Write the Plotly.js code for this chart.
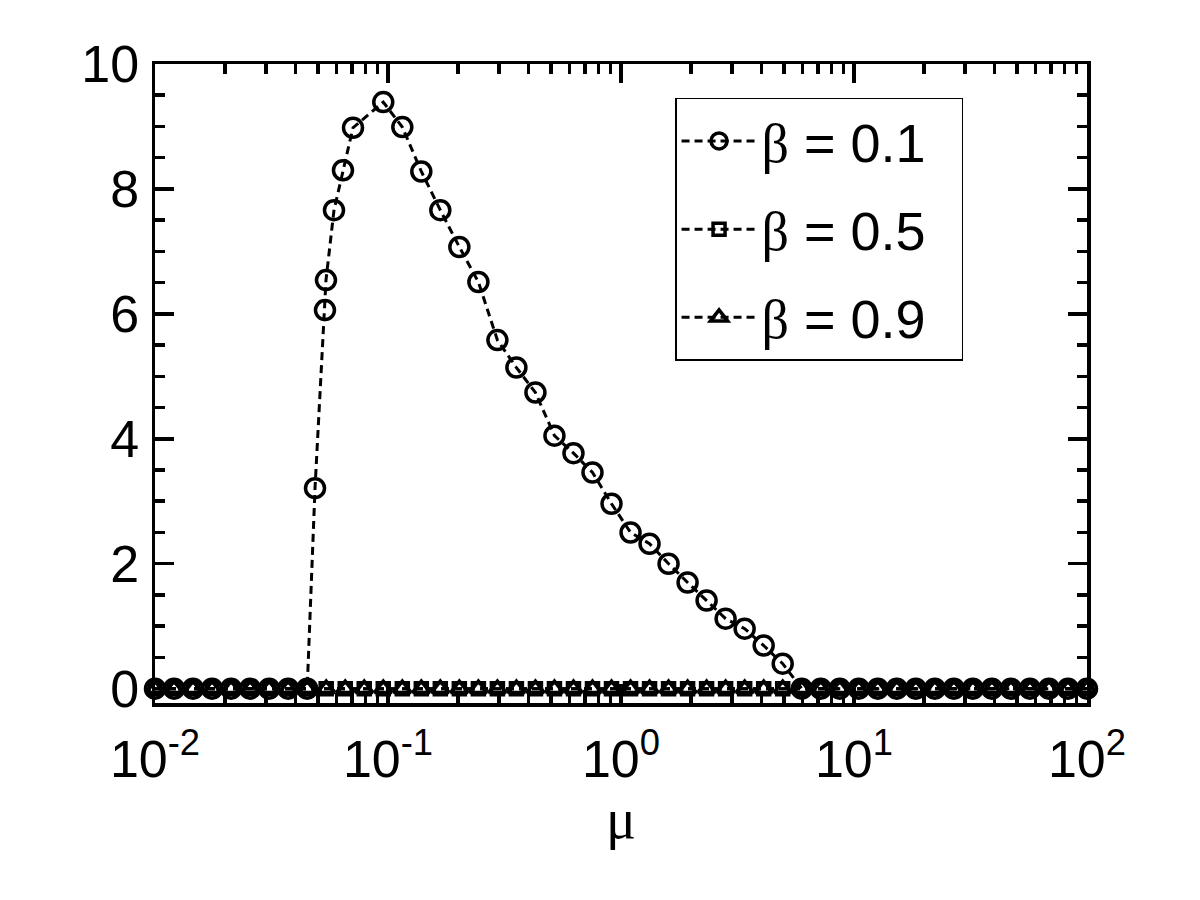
<!DOCTYPE html>
<html>
<head>
<meta charset="utf-8">
<script src="https://cdn.plot.ly/plotly-3.0.1.min.js"></script>
<style>html,body{margin:0;padding:0;background:#fff;}#chart{width:1200px;height:900px;}</style>
</head>
<body>
<div id="chart"></div>
<script>
const muGrid = [0.01, 0.01207, 0.01456, 0.01758, 0.02121, 0.02560, 0.03089, 0.03728, 0.04499, 0.05429,
  0.06552, 0.07907, 0.09542, 0.1152, 0.1390, 0.1677, 0.2024, 0.2443, 0.2948, 0.3557,
  0.4293, 0.5180, 0.6252, 0.7545, 0.9105, 1.099, 1.326, 1.600, 1.931, 2.330,
  2.812, 3.394, 4.096, 4.943, 5.965, 7.199, 8.688, 10.48, 12.65, 15.26,
  18.42, 22.23, 26.83, 32.37, 39.07, 47.15, 56.90, 68.66, 82.86, 100];

// beta = 0.1 series
const mu01 = [0.01, 0.01207, 0.01456, 0.01758, 0.02121, 0.02560, 0.03089, 0.03728, 0.04499,
  0.04861, 0.05364, 0.05418, 0.05864, 0.06408, 0.07076,
  0.09542, 0.1152, 0.1390, 0.1677, 0.2024, 0.2443, 0.2948, 0.3557,
  0.4293, 0.5180, 0.6252, 0.7545, 0.9105, 1.099, 1.326, 1.600, 1.931, 2.330,
  2.812, 3.394, 4.096, 4.943, 5.965, 7.199, 8.688, 10.48, 12.65, 15.26,
  18.42, 22.23, 26.83, 32.37, 39.07, 47.15, 56.90, 68.66, 82.86, 100];
const val01 = [0, 0, 0, 0, 0, 0, 0, 0, 0,
  3.21, 6.06, 6.54, 7.66, 8.30, 8.98,
  9.39, 8.99, 8.28, 7.66, 7.07, 6.51, 5.58, 5.14,
  4.74, 4.05, 3.77, 3.46, 2.96, 2.50, 2.32, 2.00, 1.70, 1.41,
  1.12, 0.96, 0.69, 0.40, 0, 0, 0, 0, 0, 0,
  0, 0, 0, 0, 0, 0, 0, 0, 0, 0];

// beta = 0.5 and beta = 0.9 series (zero everywhere)
const val05 = [0,0,0,0,0,0,0,0,0,0, 0,0,0,0,0,0,0,0,0,0, 0,0,0,0,0,0,0,0,0,0, 0,0,0,0,0,0,0,0,0,0, 0,0,0,0,0,0,0,0,0,0];
const val09 = [0,0,0,0,0,0,0,0,0,0, 0,0,0,0,0,0,0,0,0,0, 0,0,0,0,0,0,0,0,0,0, 0,0,0,0,0,0,0,0,0,0, 0,0,0,0,0,0,0,0,0,0];

const seriesNames = ['0.1', '0.5', '0.9'];
const xTickVals = [0.01, 0.1, 1, 10, 100];
const xTickText = ['10<sup>-2</sup>', '10<sup>-1</sup>', '10<sup>0</sup>', '10<sup>1</sup>', '10<sup>2</sup>'];

const lineStyle = {color: '#000', width: 3, dash: '8px,5px'};
const legName = v => '<span style="font-family:\'Liberation Serif\'">β</span> = ' + v + '&nbsp;&nbsp;';

const traces = [
  {x: mu01, y: val01, name: legName(seriesNames[0]), legendgroup: 'a', mode: 'lines+markers', line: lineStyle,
   marker: {symbol: 'circle-open', size: 19, color: '#000', line: {width: 3.5, color: '#000'}}, cliponaxis: false},
  {x: muGrid, y: val05, name: legName(seriesNames[1]), legendgroup: 'b', mode: 'lines+markers', line: lineStyle,
   marker: {symbol: 'square-open', size: 12, color: '#000', line: {width: 3.5, color: '#000'}}, cliponaxis: false},
  {x: muGrid, y: val09, name: legName(seriesNames[2]), legendgroup: 'c', mode: 'lines+markers', line: lineStyle,
   marker: {symbol: 'triangle-up-open', size: 15, color: '#000', line: {width: 3.5, color: '#000'}}, cliponaxis: false}
];

const layout = {
  width: 1200, height: 900,
  paper_bgcolor: '#fff', plot_bgcolor: '#fff',
  margin: {l: 155, r: 113, t: 64, b: 197},
  font: {family: 'Liberation Sans, Arial, sans-serif', color: '#000', size: 52},
  showlegend: true,
  legend: {x: 0.558, y: 0.947, xanchor: 'left', yanchor: 'top', bgcolor: '#fff', bordercolor: '#000', borderwidth: 1.5,
           font: {size: 54, family: 'Liberation Sans, Arial, sans-serif'}, tracegroupgap: 15, traceorder: 'grouped', itemwidth: 75},
  xaxis: {
    type: 'log', range: [-2, 2], showgrid: false, zeroline: false,
    showline: true, linecolor: '#000', linewidth: 3.5, mirror: 'allticks',
    ticks: 'inside', ticklen: 19, tickwidth: 3.5, tickcolor: '#000',
    tickvals: xTickVals, ticktext: xTickText, tickfont: {size: 52},
    ticklabelstandoff: 8,
    minor: {ticks: 'inside', ticklen: 10, tickwidth: 3.5, tickcolor: '#000', dtick: 'D1', showgrid: false},
    title: {text: '<span style="font-family:\'Liberation Serif\'">μ</span>', font: {size: 56}, standoff: 12}
  },
  yaxis: {
    range: [-0.23, 10], showgrid: false, zeroline: false,
    showline: true, linecolor: '#000', linewidth: 3.5, mirror: 'allticks',
    ticks: 'inside', ticklen: 19, tickwidth: 3.5, tickcolor: '#000',
    dtick: 2, tick0: 0, tickfont: {size: 52}, ticklabelstandoff: 2,
    minor: {ticks: 'inside', ticklen: 10, tickwidth: 3.5, tickcolor: '#000', dtick: 0.5, showgrid: false}
  }
};

Plotly.newPlot('chart', traces, layout, {displayModeBar: false, staticPlot: true});
</script>
</body>
</html>
